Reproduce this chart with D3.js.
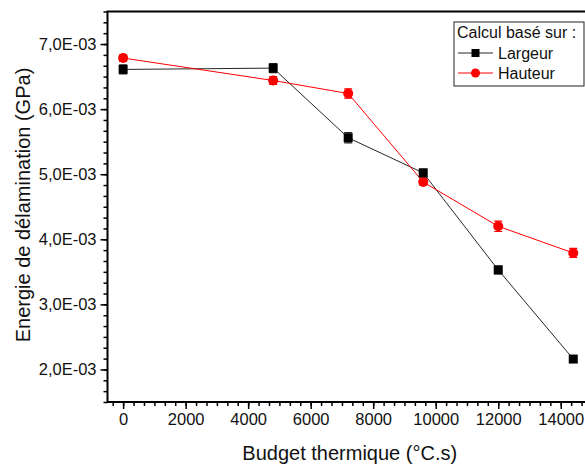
<!DOCTYPE html>
<html>
<head>
<meta charset="utf-8">
<script src="https://cdn.jsdelivr.net/npm/d3@7"></script>
<style>
  body { margin: 0; background: #fff; }
  svg { display: block; font-family: "Liberation Sans", Arial, sans-serif; }
</style>
</head>
<body>
<div id="chart"></div>
<script>
const budget = [0, 4800, 7200, 9600, 12000, 14400];
const largeur = [6.61e-3, 6.63e-3, 5.56e-3, 5.02e-3, 3.53e-3, 2.16e-3];
const largeurErr = [0.07e-3, 0.07e-3, 0.08e-3, 0.06e-3, 0.06e-3, 0.05e-3];
const hauteur = [6.785e-3, 6.44e-3, 6.24e-3, 4.88e-3, 4.20e-3, 3.79e-3];
const hauteurErr = [0.05e-3, 0.06e-3, 0.07e-3, 0.05e-3, 0.08e-3, 0.07e-3];
const xTicks = [0, 2000, 4000, 6000, 8000, 10000, 12000, 14000];
const yTicks = [2e-3, 3e-3, 4e-3, 5e-3, 6e-3, 7e-3];

const width = 585, height = 468;
const plot = { left: 107.5, right: 592, top: 11.5, bottom: 402 };

const svg = d3.select("#chart").append("svg")
    .attr("width", width)
    .attr("height", height);

const x = d3.scaleLinear().domain([-500, 15000]).range([plot.left, plot.right]);
const y = d3.scaleLinear().domain([1.5e-3, 7.5e-3]).range([plot.bottom, plot.top]);

const fmtY = d => (d * 1000).toFixed(1).replace(".", ",") + "E-03";

// minor ticks (6 intervals between majors)
const xMinor = d3.range(-2000 / 6, 15000, 2000 / 6).filter(v => v >= -500 && v <= 15000);
const yMinor = d3.range(1.5e-3, 7.5e-3 + 1e-9, 1e-3 / 6);

svg.append("g")
    .attr("transform", `translate(0,${plot.bottom})`)
    .call(d3.axisBottom(x).tickValues(xMinor).tickSize(4).tickFormat(""))
    .call(g => g.select(".domain").remove())
    .selectAll("line").attr("stroke", "#000").attr("stroke-width", 1.5);

svg.append("g")
    .attr("transform", `translate(${plot.left},0)`)
    .call(d3.axisLeft(y).tickValues(yMinor).tickSize(4).tickFormat(""))
    .call(g => g.select(".domain").remove())
    .selectAll("line").attr("stroke", "#000").attr("stroke-width", 1.5);

const xAxis = svg.append("g")
    .attr("transform", `translate(0,${plot.bottom})`)
    .call(d3.axisBottom(x).tickValues(xTicks).tickSize(7).tickPadding(4).tickFormat(d => d));
xAxis.select(".domain").remove();
xAxis.selectAll("line").attr("stroke", "#000").attr("stroke-width", 1.5);
xAxis.selectAll("text").attr("fill", "#111").style("font-size", "16.5px");

const yAxis = svg.append("g")
    .attr("transform", `translate(${plot.left},0)`)
    .call(d3.axisLeft(y).tickValues(yTicks).tickSize(7).tickPadding(4).tickFormat(fmtY));
yAxis.select(".domain").remove();
yAxis.selectAll("line").attr("stroke", "#000").attr("stroke-width", 1.5);
yAxis.selectAll("text").attr("fill", "#111").style("font-size", "16.5px");

// frame
svg.append("path")
    .attr("d", `M${plot.left},${plot.bottom}V${plot.top}H${plot.right}V${plot.bottom}Z`)
    .attr("fill", "none")
    .attr("stroke", "#000")
    .attr("stroke-width", 2);

svg.append("text")
    .attr("x", (plot.left + plot.right) / 2)
    .attr("y", 460)
    .attr("text-anchor", "middle")
    .style("font-size", "20px")
    .attr("fill", "#111")
    .text("Budget thermique (°C.s)");

svg.append("text")
    .attr("transform", "translate(30,205) rotate(-90)")
    .attr("text-anchor", "middle")
    .style("font-size", "20px")
    .attr("fill", "#111")
    .text("Energie de délamination (GPa)");

const series = [
    { name: "Largeur", values: largeur, err: largeurErr, colour: "#262626", shape: "square" },
    { name: "Hauteur", values: hauteur, err: hauteurErr, colour: "#ff0000", shape: "circle" }
];

const line = d3.line().x(d => x(d[0])).y(d => y(d[1]));

series.forEach(s => {
    const pts = budget.map((b, i) => [b, s.values[i], s.err[i]]);
    const g = svg.append("g");

    g.append("path")
        .datum(pts)
        .attr("fill", "none")
        .attr("stroke", s.colour)
        .attr("stroke-width", 1)
        .attr("d", line);

    g.selectAll(".err").data(pts).join("path")
        .attr("fill", "none")
        .attr("stroke", s.colour)
        .attr("stroke-width", 1.2)
        .attr("d", d => {
            const cx = x(d[0]), y0 = y(d[1] - d[2]), y1 = y(d[1] + d[2]);
            return `M${cx},${y0}V${y1}M${cx - 4},${y0}H${cx + 4}M${cx - 4},${y1}H${cx + 4}`;
        });
    s.pts = pts;
});

// markers on top
[series[1], series[0]].forEach(s => {
    const g = svg.append("g");
    if (s.shape === "square") {
        g.selectAll("rect").data(s.pts).join("rect")
            .attr("x", d => x(d[0]) - 4.5)
            .attr("y", d => y(d[1]) - 4.5)
            .attr("width", 9)
            .attr("height", 9)
            .attr("fill", "#000");
    } else {
        g.selectAll("circle").data(s.pts).join("circle")
            .attr("cx", d => x(d[0]))
            .attr("cy", d => y(d[1]))
            .attr("r", 5)
            .attr("fill", "#ff0000");
    }
});

// legend
const legend = svg.append("g").attr("transform", "translate(454,22)");
legend.append("rect")
    .attr("width", 130)
    .attr("height", 64)
    .attr("fill", "#fff")
    .attr("stroke", "#222")
    .attr("stroke-width", 1);
legend.append("text")
    .attr("x", 3)
    .attr("y", 16)
    .style("font-size", "16px")
    .attr("fill", "#111")
    .text("Calcul basé sur :");

series.forEach((s, i) => {
    const ly = 31 + i * 20;
    legend.append("line")
        .attr("x1", 4).attr("x2", 39)
        .attr("y1", ly).attr("y2", ly)
        .attr("stroke", s.colour)
        .attr("stroke-width", 1);
    if (s.shape === "square") {
        legend.append("rect")
            .attr("x", 21.5 - 4).attr("y", ly - 4)
            .attr("width", 8).attr("height", 8)
            .attr("fill", "#000");
    } else {
        legend.append("circle")
            .attr("cx", 21.5).attr("cy", ly)
            .attr("r", 4.5)
            .attr("fill", "#ff0000");
    }
    legend.append("text")
        .attr("x", 44)
        .attr("y", ly + 6)
        .style("font-size", "16px")
        .attr("fill", "#111")
        .text(s.name);
});
</script>
</body>
</html>
